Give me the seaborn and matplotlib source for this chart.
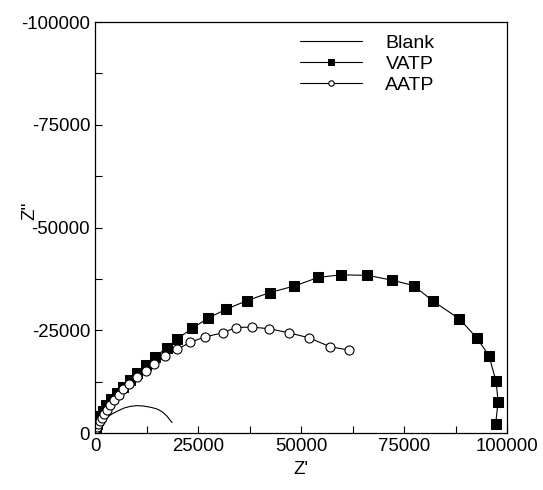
import matplotlib
matplotlib.use('Agg')
import matplotlib.pyplot as plt
from matplotlib.ticker import MultipleLocator
import seaborn as sns

sns.set_style('ticks')
plt.rcParams['font.family'] = ['Liberation Sans', 'DejaVu Sans']
plt.rcParams['axes.unicode_minus'] = False
plt.rcParams['text.color'] = 'black'
plt.rcParams['axes.labelcolor'] = 'black'

# Z' and Z'' (ohm)
blank_x = [0, 300, 700, 1200, 2000, 2800, 4000, 5300, 7000, 8500, 10100, 11800, 13500, 15000, 16300, 17500, 18100, 18700]
blank_y = [0, -600, -1100, -1600, -2700, -3700, -4600, -5300, -6100, -6500, -6700, -6600, -6300, -5900, -5200, -4100, -3300, -2600]

vatp_x = [50, 150, 300, 500, 800, 1200, 1900, 2700, 3800, 5300, 6700, 8400, 10200, 12300, 14600, 17500,
          20000, 23600, 27300, 31700, 36800, 42400, 48400, 54200, 59600, 66100, 72100, 77300, 81900,
          88400, 92700, 95600, 97300, 97800, 97200]
vatp_y = [-300, -800, -1500, -2300, -3200, -4200, -5500, -6800, -8300, -9800, -11200, -13000, -14700,
          -16700, -18600, -20800, -23000, -25500, -27900, -30100, -32200, -34200, -35800, -37900,
          -38500, -38400, -37200, -35900, -32200, -27800, -23100, -18800, -12600, -7700, -2200]

aatp_x = [50, 200, 400, 700, 1100, 1600, 2200, 2800, 3700, 4600, 5800, 6700, 8300, 10300, 12300, 14400,
          17000, 20000, 23100, 26600, 31000, 34200, 38000, 42300, 47100, 51900, 57100, 61700]
aatp_y = [-300, -900, -1500, -2200, -3000, -3800, -4700, -5700, -6800, -8100, -9400, -10700, -12000,
          -13700, -15200, -16900, -18700, -20400, -22100, -23400, -24400, -25700, -25800, -25400,
          -24400, -23200, -21000, -20200]

fig = plt.figure(figsize=(5.43, 4.9), dpi=100)
ax = fig.add_axes([0.175, 0.116, 0.759, 0.839])

sns.lineplot(x=blank_x, y=blank_y, sort=False, estimator=None, ax=ax,
             color='black', lw=0.8, label='Blank')
sns.lineplot(x=vatp_x, y=vatp_y, sort=False, estimator=None, ax=ax,
             color='black', lw=0.8, marker='s', markersize=6.5,
             markerfacecolor='black', markeredgecolor='black', label='VATP')
sns.lineplot(x=aatp_x, y=aatp_y, sort=False, estimator=None, ax=ax,
             color='black', lw=0.8, marker='o', markersize=6.5,
             markerfacecolor='white', markeredgecolor='black', markeredgewidth=0.8,
             label='AATP')

ax.set_xlim(0, 100000)
ax.set_ylim(0, -100000)
ax.xaxis.set_major_locator(MultipleLocator(25000))
ax.xaxis.set_minor_locator(MultipleLocator(12500))
ax.yaxis.set_major_locator(MultipleLocator(25000))
ax.yaxis.set_minor_locator(MultipleLocator(12500))
ax.tick_params(which='both', direction='in', top=False, right=False, labelsize=13.4,
               colors='black', length=5, width=0.8)
for s in ax.spines.values():
    s.set_linewidth(0.9)
    s.set_color('black')

ax.set_xlabel("Z'", fontsize=13.4, labelpad=4)
ax.set_ylabel("Z''", fontsize=13.4)
ax.yaxis.set_label_coords(-0.138, 0.54)

leg = ax.legend(loc='upper left', bbox_to_anchor=(0.497, 0.970), frameon=False, fontsize=14,
                handlelength=3.2, labelspacing=0.17, handletextpad=1.2, markerscale=0.6,
                borderpad=0, borderaxespad=0)

plt.savefig('out.png', dpi=100)
